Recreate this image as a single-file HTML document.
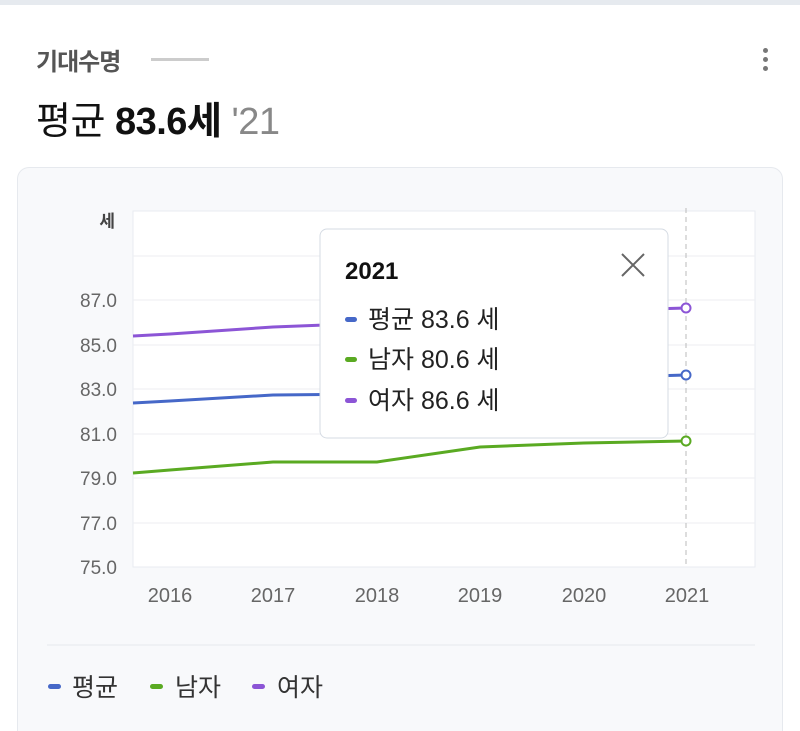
<!DOCTYPE html>
<html><head><meta charset="utf-8"><style>
html,body{margin:0;width:800px;height:731px;overflow:hidden}
body{background:#fff;font-family:"Liberation Sans","Noto Sans CJK KR",sans-serif;position:relative}
.t{position:absolute;white-space:nowrap}
</style></head><body>
<div style="position:absolute;left:0;top:0;width:800px;height:5px;background:#e6eaef"></div>
<div class="t" style="left:36px;top:42px;font-size:24px;font-weight:bold;color:#555;letter-spacing:-1px">기대수명</div>
<div style="position:absolute;left:151px;top:58px;width:58px;height:3px;background:#ccc"></div>
<div style="position:absolute;left:763px;top:48px;width:5px;height:5px;border-radius:50%;background:#777;box-shadow:0 9px 0 #777,0 18px 0 #777"></div>
<div class="t" style="left:36px;top:90px;font-size:38px;color:#111;letter-spacing:-0.5px">평균 <b>83.6세</b> <span style="color:#888">'21</span></div>
<div style="position:absolute;left:17px;top:167px;width:766px;height:564px;border:1px solid #e6e9ee;border-bottom:none;border-radius:12px 12px 0 0;background:#f8f9fb;box-sizing:border-box"></div>
<svg style="position:absolute;left:0;top:0" width="800" height="731">
<rect x="133" y="211" width="622" height="356" fill="#fff" stroke="#e8ebf0"/>
<g stroke="#eceef2">
<line x1="133" x2="755" y1="256" y2="256"/><line x1="133" x2="755" y1="300" y2="300"/><line x1="133" x2="755" y1="345" y2="345"/><line x1="133" x2="755" y1="389" y2="389"/><line x1="133" x2="755" y1="434" y2="434"/><line x1="133" x2="755" y1="478" y2="478"/><line x1="133" x2="755" y1="523" y2="523"/></g>
<line x1="686" x2="686" y1="208" y2="567" stroke="#bbb" stroke-dasharray="5,4"/>
<g font-size="19" fill="#666" text-anchor="end">
<text x="117" y="307">87.0</text><text x="117" y="352">85.0</text><text x="117" y="396">83.0</text><text x="117" y="441">81.0</text><text x="117" y="485">79.0</text><text x="117" y="530">77.0</text><text x="117" y="574">75.0</text></g>
<text x="115" y="227" font-size="17" font-weight="bold" fill="#444" text-anchor="end">세</text>
<g font-size="20" fill="#666" text-anchor="middle"><text x="170" y="602">2016</text><text x="273" y="602">2017</text><text x="377" y="602">2018</text><text x="480" y="602">2019</text><text x="584" y="602">2020</text><text x="687" y="602">2021</text></g>
<g fill="none" stroke-width="3">
<polyline stroke="#8c55d6" points="133,336 170,334 273,327 377,323 480,316 584,311 686,308"/>
<polyline stroke="#4668c8" points="133,403 170,401 273,395 377,394 480,385 584,378 686,375"/>
<polyline stroke="#5aaa22" points="133,473 170,470 273,462 377,462 480,447 584,443 686,441"/>
</g>
<circle cx="686" cy="308" r="4.5" fill="#fff" stroke="#8c55d6" stroke-width="2"/>
<circle cx="686" cy="375" r="4.5" fill="#fff" stroke="#4668c8" stroke-width="2"/>
<circle cx="686" cy="441" r="4.5" fill="#fff" stroke="#5aaa22" stroke-width="2"/>
<rect x="320" y="229" width="348" height="209" rx="7" fill="#fff" stroke="#d5dbe3"/>
<text x="345" y="279" font-size="24" font-weight="bold" fill="#111">2021</text>
<path d="M622 254 L644 276 M644 254 L622 276" stroke="#666" stroke-width="2"/>
<g font-size="25" fill="#222"><text x="368" y="328">평균 83.6 세</text><text x="368" y="368">남자 80.6 세</text><text x="368" y="409">여자 86.6 세</text></g>
<rect x="345" y="317" width="12" height="5" rx="2.5" fill="#4668c8"/>
<rect x="345" y="357" width="12" height="5" rx="2.5" fill="#5aaa22"/>
<rect x="345" y="398" width="12" height="5" rx="2.5" fill="#8c55d6"/>
<line x1="47" x2="755" y1="645" y2="645" stroke="#e6e9ee"/>
<g font-size="25" fill="#333"><text x="72" y="696">평균</text><text x="175" y="696">남자</text><text x="277" y="696">여자</text></g>
<rect x="48" y="684" width="13" height="5" rx="2.5" fill="#4668c8"/>
<rect x="150" y="684" width="13" height="5" rx="2.5" fill="#5aaa22"/>
<rect x="252" y="684" width="13" height="5" rx="2.5" fill="#8c55d6"/>
</svg>
</body></html>
